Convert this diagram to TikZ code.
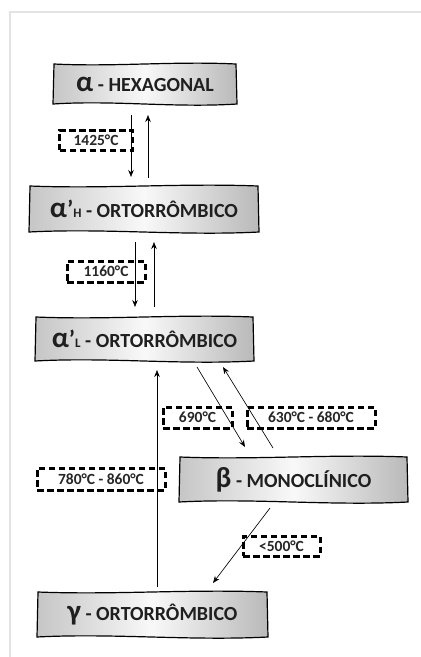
\documentclass[tikz,border=0pt]{standalone}
\usepackage{fontspec}
\setmainfont{Carlito}
\usetikzlibrary{arrows.meta,calc}

\tikzset{
  tapefill/.style={draw=black, line width=1.2pt, left color=gray!45, right color=gray!55, middle color=gray!5},
  boxtext/.style={font=\bfseries\fontsize{20}{22}\selectfont, text=black!88, inner sep=0pt},
  templabel/.style={draw=black, line width=3pt, dash pattern=on 6.5pt off 3.5pt,
    font=\bfseries\fontsize{15.5}{17}\selectfont, text=black!85, inner sep=0pt},
  conn/.style={line width=0.65pt, -{Stealth[length=7pt,width=5.5pt]}},
  frame/.style={draw=gray!22, line width=1.6pt}
}

% Box with gently waving top and bottom edges and a grey horizontal shading
\newcommand\tapebox[6]{%
  \pgfmathsetmacro\xl{#2-#4/2}\pgfmathsetmacro\xr{#2+#4/2}%
  \pgfmathsetmacro\yt{#3-#5/2}\pgfmathsetmacro\yb{#3+#5/2}%
  \pgfmathsetmacro\xa{\xl+#4*0.33}\pgfmathsetmacro\xb{\xl+#4*0.66}%
  \path[tapefill] (\xl,\yt) .. controls (\xa,\yt+3) and (\xb,\yt-3) .. (\xr,\yt)
     -- (\xr+1,\yb) .. controls (\xb,\yb+4) and (\xa,\yb-4) .. (\xl-1,\yb) -- cycle;
  \node[boxtext] (#1) at (#2,#3) {#6};%
}
\newcommand\gk[1]{{\fontsize{29}{29}\selectfont #1}}
\newcommand\prm{{\fontsize{24}{24}\selectfont\char"27}}
\newcommand\sub[1]{{\fontsize{13}{13}\selectfont #1}}

\begin{document}
\begin{tikzpicture}[x=1pt, y=-1pt]
  \useasboundingbox (0,0) rectangle (421,657);
  % page frame
  \draw[frame] (10,657) -- (10,12) -- (421,12);

  % phases
  \tapebox{hex}{145}{84}{182}{40}{\gk{α} - HEXAGONAL}
  \tapebox{aH}{144}{209}{228}{46}{\gk{α}\prm\sub{H} - ORTORRÔMBICO}
  \tapebox{aL}{144.5}{339}{217}{44}{\gk{α}\prm\sub{L} - ORTORRÔMBICO}
  \tapebox{beta}{293.5}{479.5}{227}{45}{\gk{β} - MONOCLÍNICO}
  \tapebox{gam}{152.5}{614.5}{229}{45}{\gk{γ} - ORTORRÔMBICO}

  % transitions
  \coordinate (p1s) at (131,115); \coordinate (p1e) at (131,177);
  \coordinate (p2s) at (148,178); \coordinate (p2e) at (148,115);
  \coordinate (p3s) at (135,242); \coordinate (p3e) at (135,307);
  \coordinate (p4s) at (154,307); \coordinate (p4e) at (154,242);
  \coordinate (p5s) at (157,587); \coordinate (p5e) at (157,370);
  \coordinate (p6s) at (197,367); \coordinate (p6e) at (245,447);
  \coordinate (p7s) at (273,448); \coordinate (p7e) at (223,367);
  \coordinate (p8s) at (270,508); \coordinate (p8e) at (213,583);

  % temperatures
  \node[templabel, minimum width=73pt, minimum height=20pt] (t1) at (96,140) {1425°C};
  \node[templabel, minimum width=78pt, minimum height=21pt] (t2) at (106,271.5) {1160°C};
  \node[templabel, minimum width=69pt, minimum height=21pt] (t3) at (197.5,417.5) {690°C};
  \node[templabel, minimum width=128pt, minimum height=21pt] (t4) at (311,417.5) {630°C - 680°C};
  \node[templabel, minimum width=128pt, minimum height=22pt] (t5) at (101,479) {780°C - 860°C};
  \node[templabel, minimum width=77pt, minimum height=20pt] (t6) at (281.5,546) {<500°C};

  \draw[conn] (p1s) -- (p1e);
  \draw[conn] (p2s) -- (p2e);
  \draw[conn] (p3s) -- (p3e);
  \draw[conn] (p4s) -- (p4e);
  \draw[conn] (p5s) -- (p5e);
  \draw[conn] (p6s) -- (p6e);
  \draw[conn] (p7s) -- (p7e);
  \draw[conn] (p8s) -- (p8e);
\end{tikzpicture}
\end{document}
